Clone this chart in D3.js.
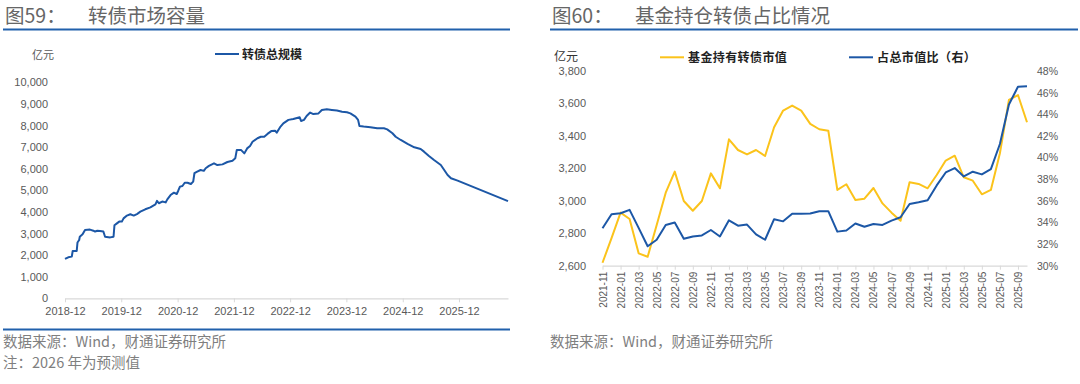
<!DOCTYPE html>
<html><head><meta charset="utf-8">
<script src="https://cdn.jsdelivr.net/npm/d3@7"></script>
<style>
html,body{margin:0;padding:0;background:#fff;}
svg{display:block;}
</style></head>
<body>
<svg id="c" width="1080" height="384"></svg>
<script>
// ---------- Left chart data (转债总规模, 亿元) ----------
const scaleDates = ["2018-12-01","2018-12-22","2019-01-14","2019-01-20","2019-02-15","2019-02-20","2019-03-03","2019-03-07","2019-03-25","2019-04-10","2019-05-12","2019-06-03","2019-06-14","2019-06-29","2019-07-16","2019-08-07","2019-08-18","2019-09-20","2019-10-12","2019-10-18","2019-11-03","2019-11-18","2019-12-05","2019-12-16","2020-01-07","2020-01-29","2020-02-20","2020-03-12","2020-04-03","2020-05-05","2020-06-07","2020-07-10","2020-07-20","2020-08-01","2020-08-23","2020-09-14","2020-09-25","2020-10-16","2020-11-07","2020-11-25","2020-12-05","2020-12-16","2021-01-01","2021-01-16","2021-02-03","2021-02-25","2021-03-12","2021-03-20","2021-04-07","2021-04-29","2021-05-20","2021-06-01","2021-06-22","2021-07-25","2021-08-16","2021-09-18","2021-10-20","2021-11-22","2021-12-10","2021-12-20","2022-01-16","2022-02-07","2022-02-25","2022-03-16","2022-04-01","2022-05-03","2022-05-25","2022-06-16","2022-07-07","2022-08-03","2022-08-25","2022-09-05","2022-09-27","2022-10-18","2022-11-20","2022-12-22","2023-02-01","2023-02-10","2023-03-01","2023-03-18","2023-04-10","2023-05-01","2023-06-03","2023-06-25","2023-07-27","2023-08-29","2023-10-01","2023-11-03","2023-12-05","2023-12-27","2024-01-29","2024-02-15","2024-02-24","2024-03-22","2024-05-05","2024-06-18","2024-08-01","2024-08-22","2024-09-25","2024-10-16","2024-11-18","2025-01-01","2025-02-14","2025-03-27","2025-04-18","2025-05-20","2025-06-22","2025-08-05","2025-08-27","2025-09-18","2025-10-10","2025-11-22","2026-10-15"];
const scaleValues = [1820,1900,1930,2190,2190,2580,2700,2850,2960,3160,3180,3130,3090,3130,3120,3090,2850,2820,2850,3380,3470,3550,3550,3700,3830,3890,3830,3900,4010,4120,4210,4350,4510,4400,4480,4440,4580,4780,4890,4830,4980,5170,5200,5350,5350,5290,5400,5790,5860,5940,5900,6020,6130,6250,6170,6200,6310,6370,6480,6870,6870,6710,6940,7050,7250,7410,7480,7480,7610,7750,7760,7670,7920,8100,8260,8300,8380,8210,8260,8440,8600,8530,8560,8720,8750,8720,8690,8640,8610,8560,8410,8260,7980,7950,7920,7870,7870,7820,7640,7480,7330,7150,6990,6910,6790,6590,6400,6170,5940,5710,5560,5450,4500];
const leftXTicks = ["2018-12","2019-12","2020-12","2021-12","2022-12","2023-12","2024-12","2025-12"];
const leftYTicks = [0,1000,2000,3000,4000,5000,6000,7000,8000,9000,10000];

// ---------- Right chart data ----------
const months = ["2021-11","2021-12","2022-01","2022-02","2022-03","2022-04","2022-05","2022-06","2022-07","2022-08","2022-09","2022-10","2022-11","2022-12","2023-01","2023-02","2023-03","2023-04","2023-05","2023-06","2023-07","2023-08","2023-09","2023-10","2023-11","2023-12","2024-01","2024-02","2024-03","2024-04","2024-05","2024-06","2024-07","2024-08","2024-09","2024-10","2024-11","2024-12","2025-01","2025-02","2025-03","2025-04","2025-05","2025-06","2025-07","2025-08","2025-09","2025-10"];
const fundValue = [2618,2770,2927,2888,2676,2655,2851,3050,3180,2999,2939,2999,3169,3077,3379,3313,3286,3313,3276,3453,3556,3587,3556,3474,3441,3432,3067,3102,3005,3013,3079,2984,2927,2877,3114,3104,3077,3159,3248,3278,3145,3124,3040,3067,3293,3622,3652,3484];
const fundShare = [33.46,34.76,34.85,35.16,33.5,31.8,32.4,33.77,34.0,32.5,32.7,32.8,33.3,32.7,34.2,33.7,33.8,32.9,32.4,34.3,34.1,34.8,34.8,34.82,35.04,35.04,33.15,33.25,33.9,33.6,33.86,33.77,34.17,34.48,35.7,35.87,36.06,37.42,38.62,39.03,38.25,38.69,38.44,38.93,41.25,44.9,46.54,46.6];
const rightLeftTicks = [2600,2800,3000,3200,3400,3600,3800];
const rightRightTicks = [30,32,34,36,38,40,42,44,46,48];

const BLUE = "#1C57A6", YELLOW = "#FBC31B", GRAY_TXT = "#595959", AXIS = "#D9D9D9";
const svg = d3.select("#c");
const parse = d3.timeParse("%Y-%m-%d");
const fmt = d3.format(",");
const numFont = "'Liberation Sans', Arial, sans-serif";
const cjkFont = "'Noto Sans CJK SC', sans-serif";

// ---------- headers & footers ----------
function header(x0, x1, label, title) {
  svg.append("text").attr("x", x0 + 2).attr("y", 23).attr("font-family", cjkFont)
    .attr("font-size", 19.5).attr("fill", "#666").text(label);
  svg.append("text").attr("x", x0 + 85).attr("y", 23).attr("font-family", cjkFont)
    .attr("font-size", 19.5).attr("fill", "#666").text(title);
  svg.append("line").attr("x1", x0).attr("x2", x1).attr("y1", 29.5).attr("y2", 29.5)
    .attr("stroke", "#2160AC").attr("stroke-width", 2);
}
header(3, 510, "图59：", "转债市场容量");
header(550, 1078, "图60：", "基金持仓转债占比情况");

svg.append("line").attr("x1", 3).attr("x2", 510).attr("y1", 329.5).attr("y2", 329.5)
  .attr("stroke", "#2160AC").attr("stroke-width", 2);
svg.append("text").attr("x", 3).attr("y", 347).attr("font-family", cjkFont)
  .attr("font-size", 14.5).attr("fill", "#7F7F7F").text("数据来源：Wind，财通证券研究所");
svg.append("text").attr("x", 3).attr("y", 368).attr("font-family", cjkFont)
  .attr("font-size", 14.5).attr("fill", "#7F7F7F").text("注：2026 年为预测值");
svg.append("text").attr("x", 550).attr("y", 347).attr("font-family", cjkFont)
  .attr("font-size", 14.5).attr("fill", "#7F7F7F").text("数据来源：Wind，财通证券研究所");

// ---------- Left chart ----------
{
  const data = scaleDates.map((d, i) => ({ date: parse(d), v: scaleValues[i] }));
  const x = d3.scaleTime().domain(d3.extent(data, d => d.date)).range([65, 508]);
  const y = d3.scaleLinear().domain([0, 10000]).range([298.3, 82.3]);
  const g = svg.append("g");

  const xa = g.append("g").attr("transform", "translate(0,298.3)")
    .call(d3.axisBottom(x).tickValues(leftXTicks.map(d => parse(d + "-01")))
      .tickFormat(d3.timeFormat("%Y-%m")).tickSize(4).tickSizeOuter(0));
  xa.select(".domain").attr("stroke", AXIS).attr("stroke-width", 1.2);
  xa.selectAll(".tick line").attr("stroke", AXIS);
  xa.selectAll("text").attr("font-family", numFont).attr("font-size", 11)
    .attr("fill", GRAY_TXT).attr("dy", "0.9em");

  const ya = g.append("g").attr("transform", "translate(51,0)")
    .call(d3.axisLeft(y).tickValues(leftYTicks).tickFormat(fmt).tickSize(0));
  ya.select(".domain").remove();
  ya.selectAll("text").attr("font-family", numFont).attr("font-size", 11).attr("fill", GRAY_TXT);

  g.append("path").datum(data).attr("fill", "none").attr("stroke", BLUE)
    .attr("stroke-width", 2).attr("stroke-linejoin", "round")
    .attr("d", d3.line().x(d => x(d.date)).y(d => y(d.v)));

  g.append("text").attr("x", 32).attr("y", 59).attr("font-family", cjkFont)
    .attr("font-size", 11).attr("fill", GRAY_TXT).text("亿元");
  g.append("line").attr("x1", 215).attr("x2", 239).attr("y1", 54).attr("y2", 54)
    .attr("stroke", BLUE).attr("stroke-width", 2);
  g.append("text").attr("x", 242).attr("y", 58.5).attr("font-family", cjkFont)
    .attr("font-size", 12).attr("font-weight", "bold").attr("fill", "#222").text("转债总规模");
}

// ---------- Right chart ----------
{
  const x = d3.scalePoint().domain(months).range([602.5, 1027]);
  const yL = d3.scaleLinear().domain([2600, 3800]).range([265.7, 71]);
  const yR = d3.scaleLinear().domain([30, 48]).range([265.7, 71]);
  const g = svg.append("g");

  const xa = g.append("g").attr("transform", "translate(0,265.7)")
    .call(d3.axisBottom(x).tickValues(months.filter((d, i) => i % 2 === 0))
      .tickSize(4).tickSizeOuter(0));
  xa.select(".domain").attr("stroke", AXIS).attr("stroke-width", 1.2);
  xa.selectAll(".tick line").attr("stroke", AXIS);
  xa.selectAll("text").attr("font-family", numFont).attr("font-size", 10).attr("fill", GRAY_TXT)
    .attr("text-anchor", "end").attr("transform", "rotate(-90)")
    .attr("x", -6).attr("y", 0).attr("dy", "0.35em");

  const ya = g.append("g").attr("transform", "translate(589,0)")
    .call(d3.axisLeft(yL).tickValues(rightLeftTicks).tickFormat(fmt).tickSize(0));
  ya.select(".domain").remove();
  ya.selectAll("text").attr("font-family", numFont).attr("font-size", 11).attr("fill", GRAY_TXT);

  const yr = g.append("g").attr("transform", "translate(1034,0)")
    .call(d3.axisRight(yR).tickValues(rightRightTicks).tickFormat(d => d + "%").tickSize(0));
  yr.select(".domain").remove();
  yr.selectAll("text").attr("font-family", numFont).attr("font-size", 10.5).attr("fill", GRAY_TXT);

  g.append("path").datum(fundValue).attr("fill", "none").attr("stroke", YELLOW)
    .attr("stroke-width", 2).attr("stroke-linejoin", "round")
    .attr("d", d3.line().x((d, i) => x(months[i])).y(d => yL(d)));
  g.append("path").datum(fundShare).attr("fill", "none").attr("stroke", BLUE)
    .attr("stroke-width", 2).attr("stroke-linejoin", "round")
    .attr("d", d3.line().x((d, i) => x(months[i])).y(d => yR(d)));

  g.append("text").attr("x", 554).attr("y", 61).attr("font-family", cjkFont)
    .attr("font-size", 12).attr("fill", "#333").text("亿元");
  g.append("line").attr("x1", 660).attr("x2", 684).attr("y1", 57.3).attr("y2", 57.3)
    .attr("stroke", YELLOW).attr("stroke-width", 2);
  g.append("text").attr("x", 688).attr("y", 61.5).attr("font-family", cjkFont)
    .attr("font-size", 12).attr("font-weight", "bold").attr("letter-spacing", 0.4)
    .attr("fill", "#222").text("基金持有转债市值");
  g.append("line").attr("x1", 849).attr("x2", 873).attr("y1", 57.3).attr("y2", 57.3)
    .attr("stroke", BLUE).attr("stroke-width", 2);
  g.append("text").attr("x", 877).attr("y", 61.5).attr("font-family", cjkFont)
    .attr("font-size", 12).attr("font-weight", "bold").attr("letter-spacing", 0.4)
    .attr("fill", "#222").text("占总市值比（右）");
}
</script>
</body></html>
